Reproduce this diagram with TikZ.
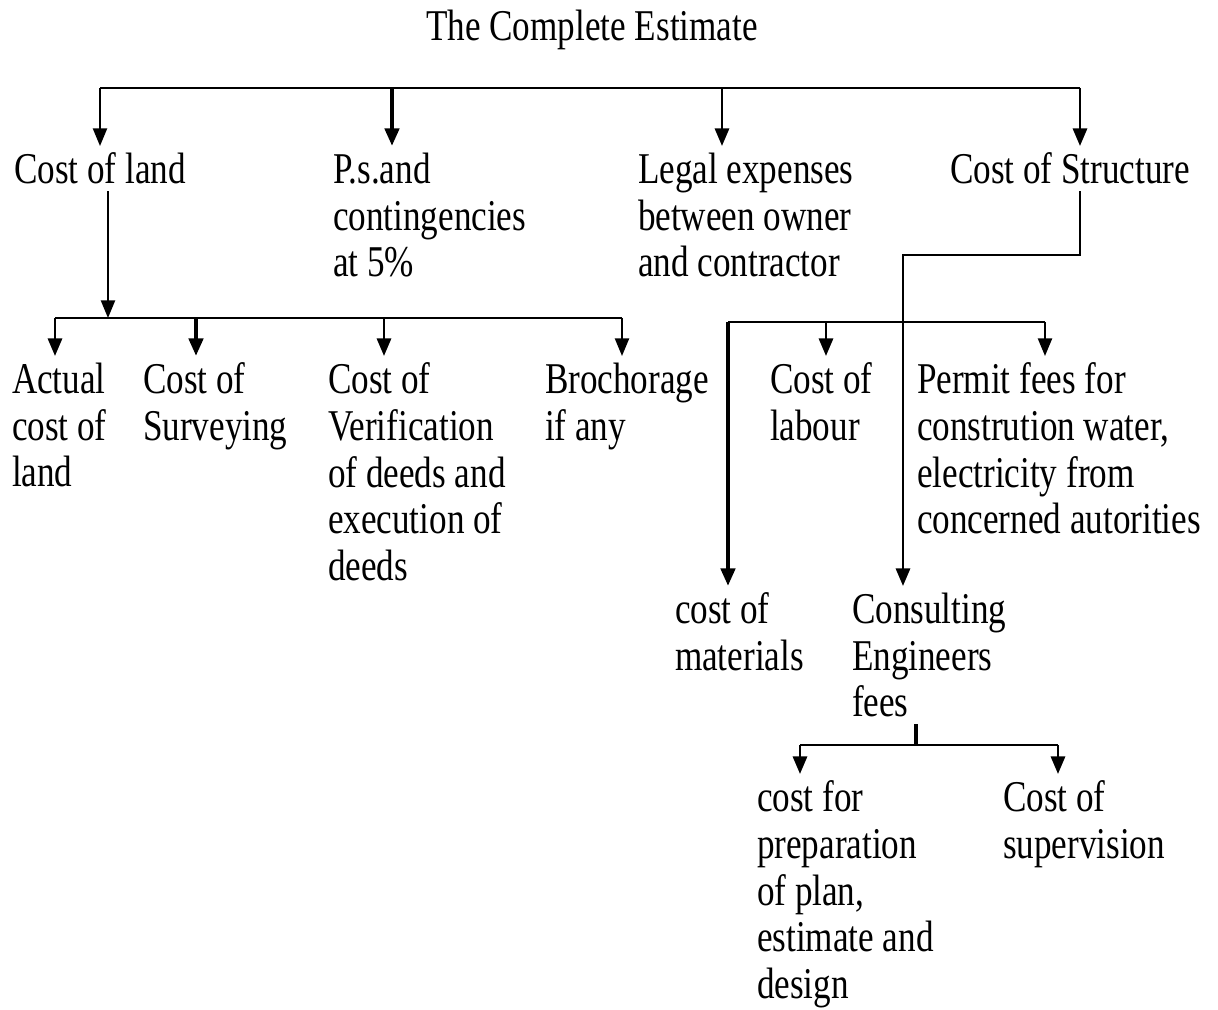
\documentclass[tikz,border=0pt]{standalone}
\usepackage{fontspec}
\setmainfont{Liberation Serif}[FakeStretch=0.8]
\usetikzlibrary{arrows.meta}

\begin{document}
\begin{tikzpicture}
  [x=0.02cm,y=-0.02cm,line width=1.6pt,>={Triangle[width=8pt,length=10pt]},
   every node/.style={inner sep=0pt,outer sep=4pt,anchor=north west,align=left,
     font=\fontsize{25}{26.5}\selectfont},
   heavy/.style={line width=2.4pt},light/.style={line width=1.1pt}]
  \useasboundingbox (0,0) rectangle (1218,1010);

  \node[anchor=base] (n0) at (592,41) {The Complete Estimate};
  % first level
  \node (n1) at (7,146)    {Cost of land};
  \node (n2) at (326,146)  {P.s.and\\contingencies\\at 5\%};
  \node (n3) at (631,146)  {Legal expenses\\between owner\\and contractor};
  \node (n4) at (943,146)  {Cost of Structure};
  % under cost of land
  \node (n5) at (5,356)    {Actual\\cost of\\land};
  \node (n6) at (136,356)  {Cost of\\Surveying};
  \node (n7) at (321,356)  {Cost of\\Verification\\of deeds and\\execution of\\deeds};
  \node (n8) at (538,356)  {Brochorage\\if any};
  % under cost of structure
  \node (n9) at (763,356)  {Cost of\\labour};
  \node (n10) at (910,356) {Permit fees for\\constrution water,\\electricity from\\concerned autorities};
  \node (n11) at (668,586) {cost of\\materials};
  \node (n12) at (845,586) {Consulting\\Engineers\\fees};
  \node (n13) at (750,774) {cost for\\preparation\\of plan,\\estimate and\\design};
  \node (n14) at (996,774) {Cost of\\supervision};

  \coordinate (t1) at (100,88);  \coordinate (t2) at (392,88);
  \coordinate (t3) at (722,88);  \coordinate (t4) at (1080,88);
  \coordinate (s0) at (108,318); \coordinate (s1) at (55,318);
  \coordinate (s2) at (196,318); \coordinate (s3) at (384,318);
  \coordinate (s4) at (622,318);
  \coordinate (r1) at (1080,255); \coordinate (r2) at (903,255);
  \coordinate (c1) at (728,322); \coordinate (c2) at (826,322);
  \coordinate (c3) at (1045,322);
  \coordinate (e0) at (916,745); \coordinate (e1) at (800,745);
  \coordinate (e2) at (1058,745);

  % top bus
  \draw (t1) -- (t4);
  \draw[->,light] (t1) -- (t1 |- n1.north);
  \draw[->,heavy] (t2) -- (t2 |- n2.north);
  \draw[->] (t3) -- (t3 |- n3.north);
  \draw[->] (t4) -- (t4 |- n4.north);

  % cost of land
  \draw[->,light] (n1.south -| s0) -- (s0);
  \draw (s1) -- (s4);
  \foreach \from/\to in {s1/n5, s3/n7}
    \draw[->] (\from) -- (\from |- \to.north);
  \draw[->,heavy] (s2) -- (s2 |- n6.north);
  \draw[->,light] (s4) -- (s4 |- n8.north);

  % cost of structure
  \draw[->] (n4.south -| r1) -- (r1) -- (r2) -- (r2 |- n12.north);
  \draw (c1) -- (c3);
  \draw[->,heavy] (c1) -- (c1 |- n11.north);
  \draw[->] (c2) -- (c2 |- n9.north);
  \draw[->,light] (c3) -- (c3 |- n10.north);

  % consulting engineers fees
  \draw[heavy] (n12.south -| e0) -- (e0);
  \draw (e1) -- (e2);
  \foreach \from/\to in {e1/n13, e2/n14}
    \draw[->] (\from) -- (\from |- \to.north);
\end{tikzpicture}
\end{document}
